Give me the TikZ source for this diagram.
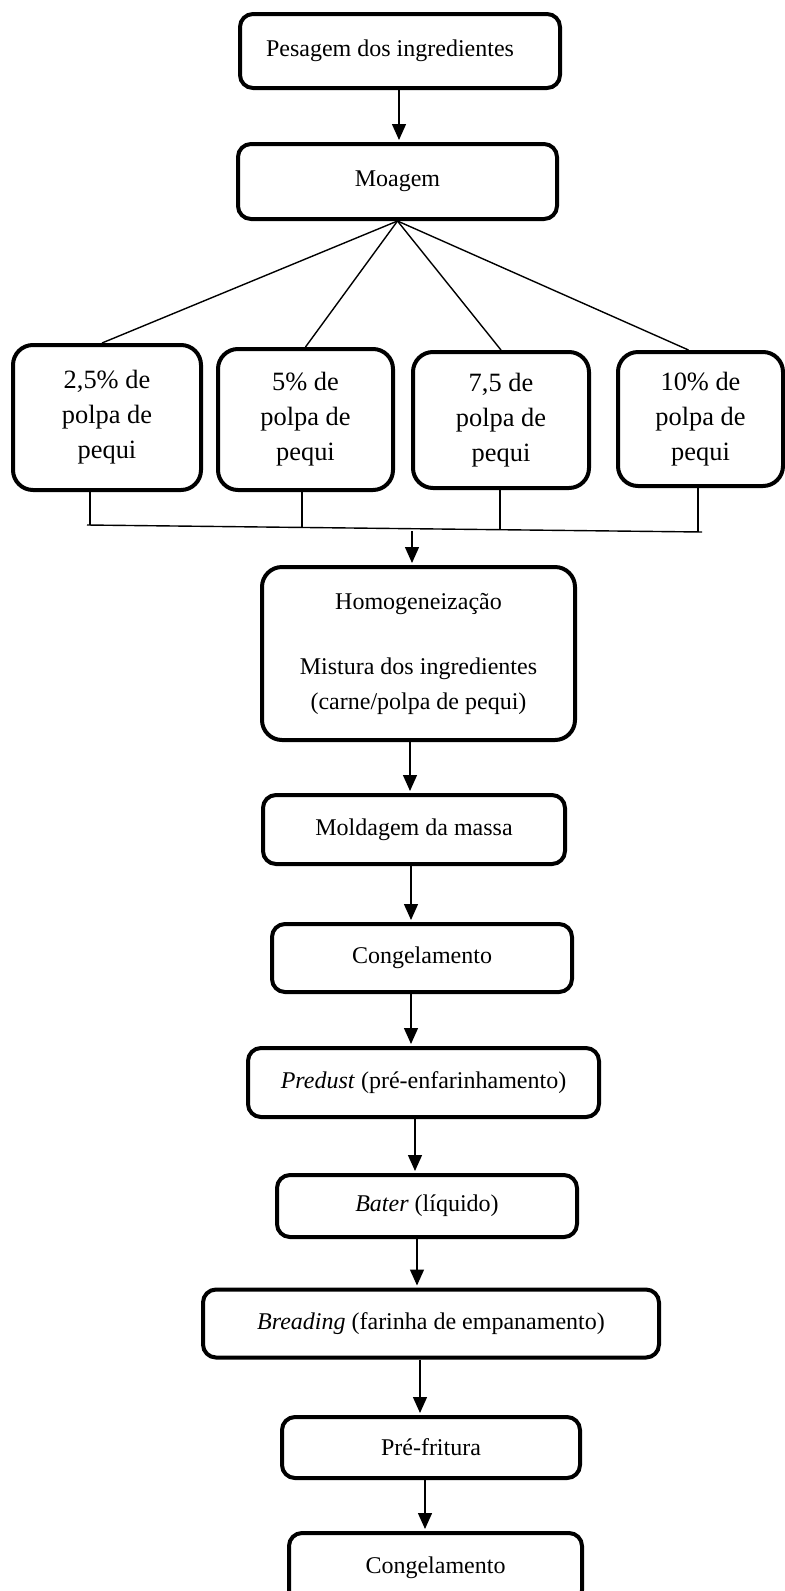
\documentclass[tikz,border=0pt]{standalone}
\usepackage{fontspec}
\setmainfont{Liberation Serif}
\usetikzlibrary{arrows.meta}

\tikzset{
  stage/.style={draw, line width=2pt, rounded corners=6.5pt, align=center, inner sep=0pt,
    font=\fontsize{12pt}{17.5pt}\selectfont},
  dose/.style={stage, rounded corners=10pt},
  link/.style={line width=0.7pt},
  flow/.style={link, -{Triangle[length=8pt,width=7pt]}, shorten >=1pt}
}

\begin{document}
\begin{tikzpicture}[x=0.5pt,y=-0.5pt]
\useasboundingbox (0,0) rectangle (785,1591);

\node[stage, minimum width=160pt, minimum height=37pt] (pesagem) at (400,51) {Pesagem dos ingredientes\hspace*{10pt}};
\node[stage, minimum width=159.5pt, minimum height=37.5pt] (moagem) at (397.5,181.5) {Moagem};

\node[dose, minimum width=94pt, minimum height=72.5pt, font=\fontsize{13.2pt}{17.5pt}\selectfont] (p25) at (107,417.5) {2,5\% de\\polpa de\\pequi};
\node[dose, minimum width=87.5pt, minimum height=70.5pt, font=\fontsize{13.2pt}{17.5pt}\selectfont] (p5) at (305.5,419.5) {5\% de\\polpa de\\pequi};
\node[dose, minimum width=88pt, minimum height=68pt, font=\fontsize{13.2pt}{17.5pt}\selectfont] (p75) at (501,420) {7,5 de\\polpa de\\pequi};
\node[dose, minimum width=82.5pt, minimum height=67pt, font=\fontsize{13.2pt}{17.5pt}\selectfont] (p10) at (700.5,419) {10\% de\\polpa de\\pequi};

\node[dose, minimum width=156.5pt, minimum height=86.5pt] (homog) at (418.5,653.5)
  {Homogeneização\\[15pt]Mistura dos ingredientes\\(carne/polpa de pequi)};
\node[stage, minimum width=151pt, minimum height=34.5pt] (molda) at (414,829.5) {Moldagem da massa};
\node[stage, minimum width=150pt, minimum height=34pt] (cong1) at (422,958) {Congelamento};
\node[stage, minimum width=175.5pt, minimum height=34.5pt] (predust) at (423.5,1082.5) {\textit{Predust} (pré-enfarinhamento)};
\node[stage, minimum width=150pt, minimum height=31pt] (bater) at (427,1206) {\textit{Bater} (líquido)};
\node[stage, minimum width=228pt, minimum height=34pt] (bread) at (431,1323.5) {\textit{Breading} (farinha de empanamento)};
\node[stage, minimum width=149pt, minimum height=30.5pt] (prefrit) at (431,1447.5) {Pré-fritura};
\node[stage, minimum width=146.5pt, minimum height=35pt] (cong2) at (435.5,1568) {Congelamento};

\coordinate (busL) at (87,525);
\coordinate (busR) at (702,532);
\coordinate (j1) at (90,525);
\coordinate (j2) at (302,528);
\coordinate (j3) at (500,530);
\coordinate (j4) at (698,532);
\coordinate (busmid) at (412,531);

\draw[flow] (399,0 |- pesagem.south) -- (399,0 |- moagem.north);

\draw[link] (moagem.south) -- ([xshift=-2.5pt]p25.north);
\draw[link] (moagem.south) -- (p5.north);
\draw[link] (moagem.south) -- (p75.north);
\draw[link] (moagem.south) -- ([xshift=-6pt]p10.north);

\draw[link] (j1 |- p25.south) -- (j1);
\draw[link] (j2 |- p5.south) -- (j2);
\draw[link] (j3 |- p75.south) -- (j3);
\draw[link] (j4 |- p10.south) -- (j4);
\draw[link] (busL) -- (busR);
\draw[flow] (busmid) -- (busmid |- homog.north);

\draw[flow] (410,0 |- homog.south) -- (410,0 |- molda.north);
\draw[flow] (411,0 |- molda.south) -- (411,0 |- cong1.north);
\draw[flow] (411,0 |- cong1.south) -- (411,0 |- predust.north);
\draw[flow] (415,0 |- predust.south) -- (415,0 |- bater.north);
\draw[flow] (417,0 |- bater.south) -- (417,0 |- bread.north);
\draw[flow] (420,0 |- bread.south) -- (420,0 |- prefrit.north);
\draw[flow] (425,0 |- prefrit.south) -- (425,0 |- cong2.north);
\end{tikzpicture}
\end{document}
